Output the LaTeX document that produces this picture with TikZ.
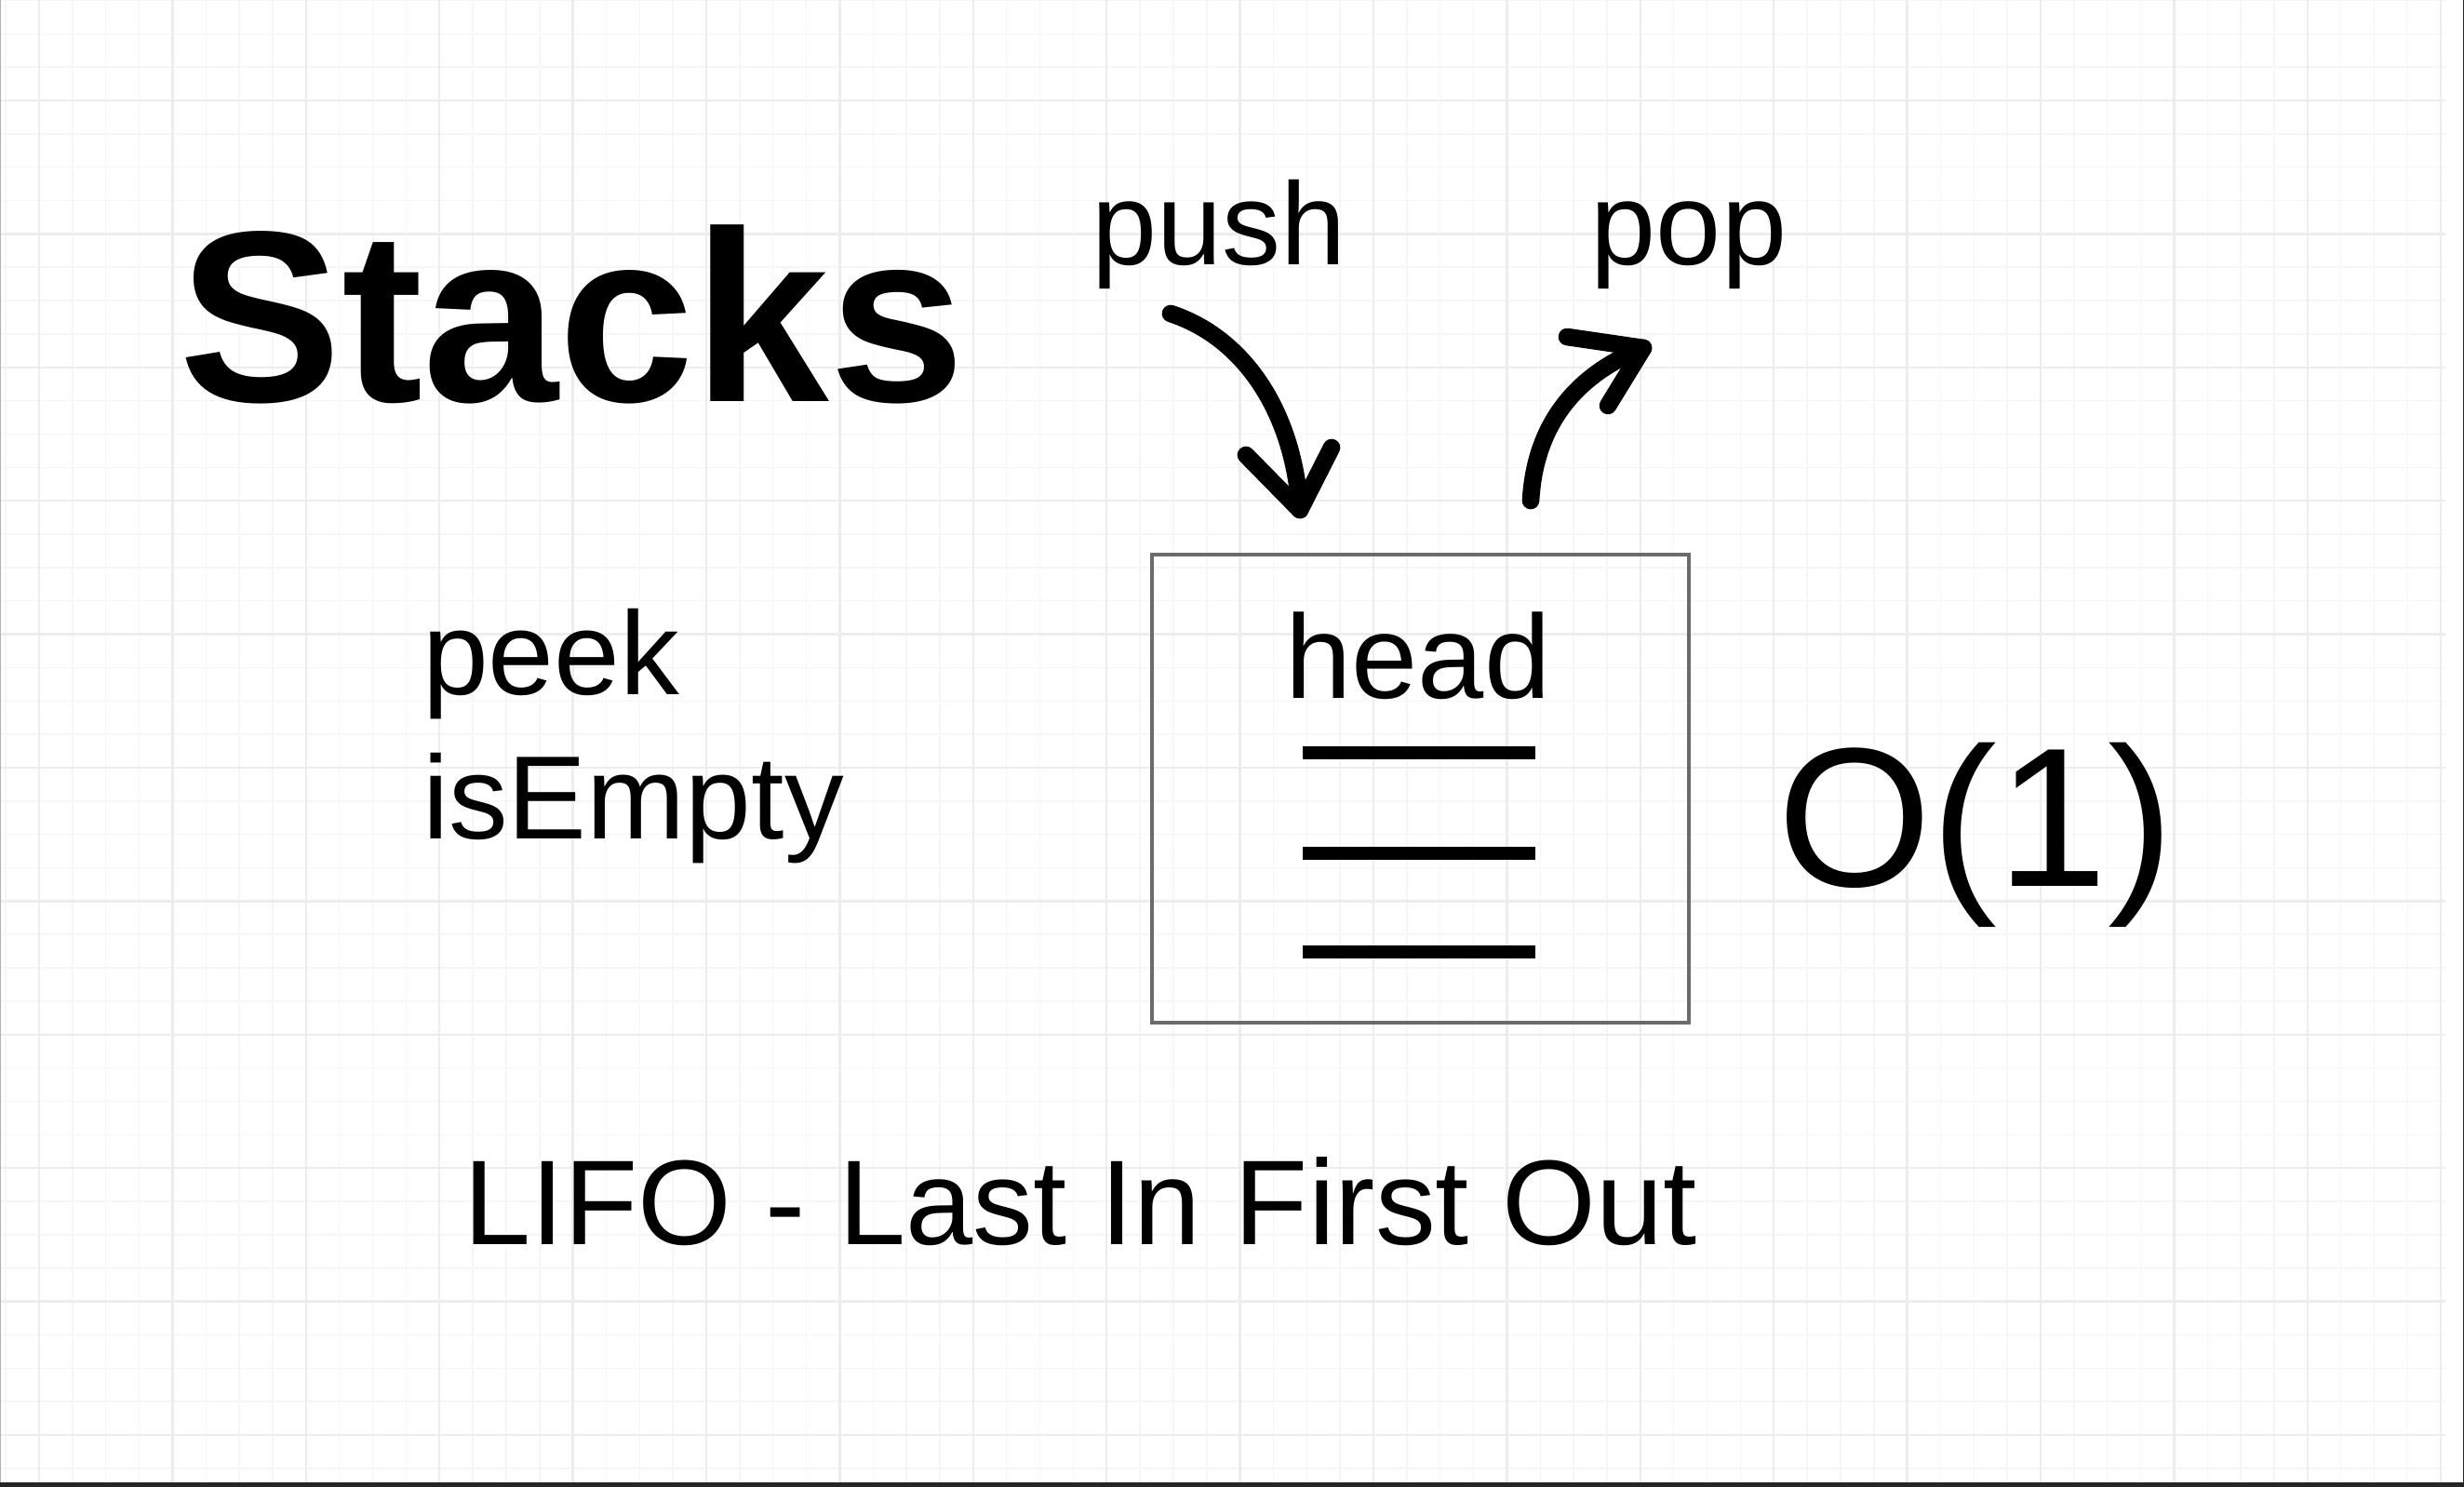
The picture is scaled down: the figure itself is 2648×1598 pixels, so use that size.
\documentclass[tikz,border=0pt]{standalone}
\usepackage{fontspec}
\setmainfont{Liberation Sans}
\begin{document}
\begin{tikzpicture}[x=0.3pt,y=-0.3pt,
  lbl/.style={inner sep=0pt, outer sep=0pt, anchor=base, text=black},
  lblw/.style={lbl, anchor=base west},
  arrowline/.style={line width=5.6pt, line cap=round, line join=round},
  gridmajor/.style={draw=black!7, line width=0.75pt},
  gridminor/.style={draw=black!3.5, line width=0.45pt},
  stackline/.style={line width=4.2pt},
  stackbox/.style={draw=black!58, line width=1.4pt, inner sep=0pt, minimum width=173.1pt, minimum height=150.9pt}]
\useasboundingbox (0,0) rectangle (2648,1598);
\fill[white] (0,0) rectangle (2648,1598);
% grid
\foreach \k in {-1,...,72} \draw[gridminor] ({42+35.85*\k},0) -- ({42+35.85*\k},1593);
\foreach \k in {-3,...,41} \draw[gridminor] (0,{108+35.85*\k}) -- (2628,{108+35.85*\k});
\foreach \k in {0,...,18} \draw[gridmajor] ({42+143.4*\k},0) -- ({42+143.4*\k},1593);
\foreach \k in {0,...,10} \draw[gridmajor] (0,{108+143.4*\k}) -- (2628,{108+143.4*\k});
% frame edges
\fill[black!30] (0,0) rectangle (1.5,1593);
\fill[black!85] (0,1593) rectangle (2648,1598);
\fill[black!85] (2646.5,0) rectangle (2648,1598);
% texts
\node[lbl, font=\fontsize{78.6}{94}\selectfont\bfseries] (title) at (615,432) {Stacks};
\node[lbl, font=\fontsize{37.8}{45}\selectfont] (push) at (1310,285) {push};
\node[lbl, font=\fontsize{37.8}{45}\selectfont] (pop) at (1815,285) {pop};
\node[lblw, font=\fontsize{38.2}{45}\selectfont] (peek) at (454,747) {peek};
\node[lblw, font=\fontsize{38.2}{45}\selectfont] (isempty) at (454,902) {isEmpty};
\node[lbl, font=\fontsize{63.9}{76}\selectfont] (order) at (2123,952) {O(1)};
\node[lbl, font=\fontsize{38.9}{47}\selectfont] (lifo) at (1161,1337) {LIFO - Last In First Out};
% stack box
\node[stackbox] (box) at (1526.5,847.5) {};
\node[lbl, font=\fontsize{38.4}{46}\selectfont] (head) at (1524,751) {head};
\draw[stackline] (1400,809) -- (1650,809);
\draw[stackline] (1400,917) -- (1650,917);
\draw[stackline] (1400,1023) -- (1650,1023);
% push arrow
\coordinate (pushstart) at (1258,337);
\coordinate (pushtip) at (1397,548);
\coordinate (pushwl) at (1339,489);
\coordinate (pushwr) at (1431,481);
\draw[arrowline] (pushstart) .. controls (1335,362) and (1390,440) .. (pushtip);
\draw[arrowline] (pushwl) -- (pushtip) -- (pushwr);
% pop arrow
\coordinate (popstart) at (1645,538);
\coordinate (poptip) at (1766,374);
\coordinate (popwl) at (1684,362);
\coordinate (popwr) at (1728,436);
\draw[arrowline] (popstart) .. controls (1650,450) and (1700,400) .. (poptip);
\draw[arrowline] (popwl) -- (poptip) -- (popwr);
\end{tikzpicture}
\end{document}
